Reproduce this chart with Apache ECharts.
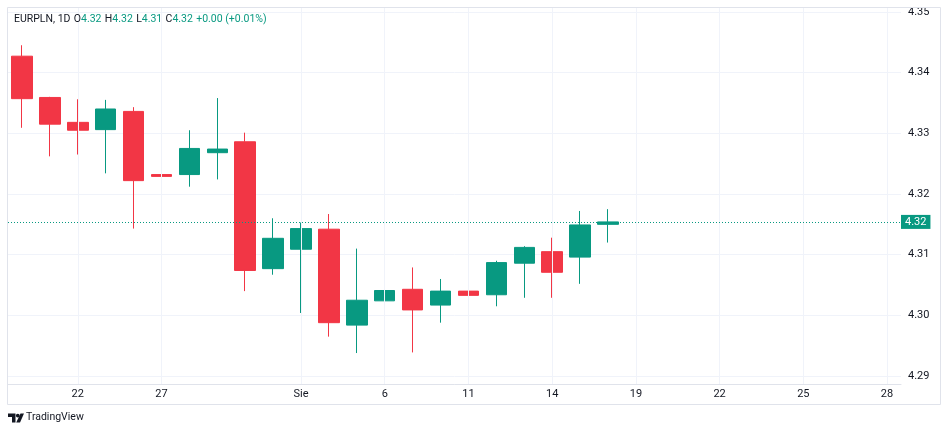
<!DOCTYPE html>
<html>
<head>
<meta charset="utf-8">
<title>EURPLN 1D</title>
<script src="https://cdn.jsdelivr.net/npm/echarts@6/dist/echarts.min.js"></script>
<style>
	html, body { margin:0; padding:0; background:#ffffff; }
	#container { width:948px; height:433px; }
</style>
</head>
<body>
<div id="container"></div>
<script>
(function(){

	// daily candles (one per trading day)
	var opens  = [4.3427, 4.3359, 4.3318, 4.3306, 4.3336, 4.3232, 4.3232, 4.3268, 4.3286, 4.3077, 4.3109,
	              4.3142, 4.2984, 4.3024, 4.3043, 4.3017, 4.3040, 4.3034, 4.3086, 4.3105, 4.3096, 4.3150];
	var highs  = [4.3445, 4.3360, 4.3356, 4.3355, 4.3343, 4.3249, 4.3305, 4.3358, 4.3301, 4.3160, 4.3153,
	              4.3167, 4.3110, 4.3066, 4.3079, 4.3060, 4.3068, 4.3090, 4.3114, 4.3128, 4.3172, 4.3175];
	var lows   = [4.3309, 4.3262, 4.3265, 4.3234, 4.3143, 4.3110, 4.3212, 4.3224, 4.3040, 4.3067, 4.3004,
	              4.2965, 4.2938, 4.2976, 4.2939, 4.2988, 4.2967, 4.3015, 4.3029, 4.3029, 4.3052, 4.3120];
	var closes = [4.3357, 4.3315, 4.3305, 4.3340, 4.3222, 4.3229, 4.3275, 4.3274, 4.3074, 4.3127, 4.3143,
	              4.2988, 4.3025, 4.3041, 4.3009, 4.3040, 4.3033, 4.3087, 4.3112, 4.3071, 4.3149, 4.3154];

	// time scale: 32 slots (candles + empty future), labels on some of them
	var slotCount = 32;
	var tickSlots  = [2, 5, 10, 13, 16, 19, 22, 25, 28, 31];
	var tickLabels = ['22', '27', 'Sie', '6', '11', '14', '19', '22', '25', '28'];

	var UP = '#089981', DOWN = '#F23645', TXT = '#131722', GRID = '#f0f3fa', FRAME = '#e0e3eb';
	var FONT = 'Roboto, "Noto Sans", sans-serif';

	var slots = [];
	for( var i = 0; i < slotCount; ++i ) slots.push( String( i ) );

	var candles = [];
	var i = 0, iLen = opens.length;
	for( ; i < iLen; ++i ){
		candles.push( [ opens[ i ], closes[ i ], lows[ i ], highs[ i ] ] );
	}

	var last = iLen - 1;
	var chg = closes[ last ] - closes[ last - 1 ];
	var pct = chg / closes[ last - 1 ] * 100;
	var sign = chg >= 0 ? '+' : '-';

	var header = '{t|EURPLN, 1D} {t|O}{v|' + opens[ last ].toFixed(2) + '} {t|H}{v|' + highs[ last ].toFixed(2)
		+ '} {t|L}{v|' + lows[ last ].toFixed(2) + '} {t|C}{v|' + closes[ last ].toFixed(2) + '} {v|'
		+ sign + Math.abs( chg ).toFixed(2) + ' (' + sign + Math.abs( pct ).toFixed(2) + '%)}';

	var vGrid = [];
	for( var k = 0; k < tickSlots.length; ++k ) vGrid.push( { xAxis: tickSlots[ k ] } );

	var myChart = echarts.init( document.getElementById( "container" ), null, { renderer: 'canvas' } );

	var option = {
		animation: false,
		backgroundColor: '#ffffff',
		grid: { left: 8, right: 47, top: 7, bottom: 49, containLabel: false },
		xAxis: {
			type: 'category',
			data: slots,
			boundaryGap: true,
			axisLine: { show: true, lineStyle: { color: FRAME } },
			axisTick: { show: false },
			splitLine: { show: false },
			axisLabel: {
				color: TXT, fontSize: 11, fontFamily: FONT, margin: 5,
				interval: function( idx ){ return tickSlots.indexOf( idx ) >= 0; },
				formatter: function( val, idx ){
					var p = tickSlots.indexOf( Number( val ) );
					return p >= 0 ? tickLabels[ p ] : '';
				}
			}
		},
		yAxis: {
			type: 'value',
			position: 'right',
			min: 4.2887,
			max: 4.3508,
			scale: true,
			axisLine: { show: false },
			axisTick: { show: false },
			splitLine: { show: true, lineStyle: { color: GRID, width: 1 } },
			axisLabel: {
				color: TXT, fontSize: 11, fontFamily: FONT, margin: 7,
				showMinLabel: false, showMaxLabel: false,
				formatter: function( v ){ return v.toFixed(2); }
			}
		},
		series: [
			{
				// vertical grid lines on labelled days, under the candles
				type: 'line',
				data: [],
				z: 1,
				silent: true,
				markLine: {
					silent: true,
					symbol: 'none',
					label: { show: false },
					lineStyle: { color: GRID, type: 'solid', width: 1 },
					data: vGrid
				}
			},
			{
				type: 'candlestick',
				z: 3,
				barWidth: 21,
				data: candles,
				itemStyle: {
					color: UP, color0: DOWN,
					borderColor: UP, borderColor0: DOWN,
					borderWidth: 1
				}
			},
			{
				// last price line with its tag on the price scale
				type: 'line',
				data: [],
				z: 5,
				silent: true,
				markLine: {
					silent: true,
					symbol: 'none',
					precision: 4,
					lineStyle: { color: UP, type: [1, 2], width: 1 },
					label: {
						show: true,
						position: 'end',
						distance: 0,
						formatter: closes[ last ].toFixed(2),
						color: '#ffffff',
						backgroundColor: UP,
						fontSize: 11,
						fontFamily: FONT,
						padding: [2, 4, 1, 4]
					},
					data: [ { yAxis: closes[ last ] } ]
				}
			}
		],
		graphic: [
			{
				type: 'rect', silent: true, z: 100,
				shape: { x: 7.5, y: 7.5, width: 933, height: 397 },
				style: { fill: 'none', stroke: FRAME, lineWidth: 1 }
			},
			{
				type: 'text', left: 14, top: 13, z: 100,
				style: {
					text: header,
					rich: {
						t: { fill: TXT, fontSize: 10.5, fontFamily: FONT },
						v: { fill: UP, fontSize: 10.5, fontFamily: FONT }
					}
				}
			},
			// TradingView logo + name
			{
				type: 'polygon', z: 100,
				shape: { points: [ [8, 413.5], [15.5, 413.5], [15.5, 422.5], [12, 422.5], [12, 417], [8, 417] ] },
				style: { fill: TXT }
			},
			{
				type: 'circle', z: 100,
				shape: { cx: 17.8, cy: 415.6, r: 1.9 },
				style: { fill: TXT }
			},
			{
				type: 'polygon', z: 100,
				shape: { points: [ [20.5, 413.5], [24, 413.5], [20, 422.5], [16.2, 422.5] ] },
				style: { fill: TXT }
			},
			{
				type: 'text', left: 26, top: 412, z: 100,
				style: { text: 'TradingView', fill: TXT, fontSize: 10.5, fontFamily: FONT }
			}
		]
	};

	if( option && typeof option === "object" ) myChart.setOption( option, true );

	window.addEventListener( "resize", function(e){ myChart.resize(); } );
})();
</script>
</body>
</html>
